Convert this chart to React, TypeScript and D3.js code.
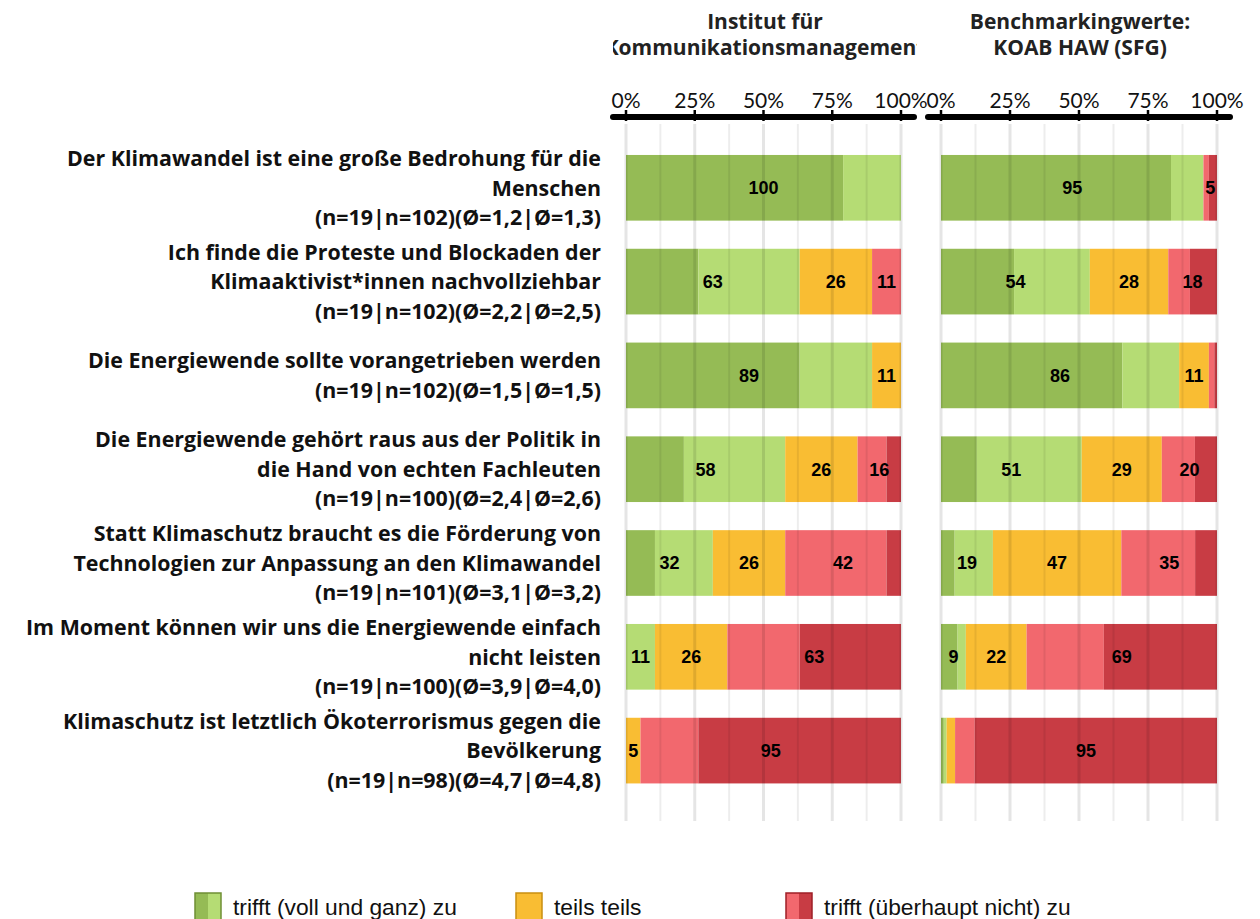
import React from "react";
import * as d3 from "d3";

const W = 1260;
const H = 919;

const rowLabels: string[][] = [
  ["Der Klimawandel ist eine große Bedrohung für die", "Menschen", "(n=19|n=102)(Ø=1,2|Ø=1,3)"],
  ["Ich finde die Proteste und Blockaden der", "Klimaaktivist*innen nachvollziehbar", "(n=19|n=102)(Ø=2,2|Ø=2,5)"],
  ["Die Energiewende sollte vorangetrieben werden", "(n=19|n=102)(Ø=1,5|Ø=1,5)"],
  ["Die Energiewende gehört raus aus der Politik in", "die Hand von echten Fachleuten", "(n=19|n=100)(Ø=2,4|Ø=2,6)"],
  ["Statt Klimaschutz braucht es die Förderung von", "Technologien zur Anpassung an den Klimawandel", "(n=19|n=101)(Ø=3,1|Ø=3,2)"],
  ["Im Moment können wir uns die Energiewende einfach", "nicht leisten", "(n=19|n=100)(Ø=3,9|Ø=4,0)"],
  ["Klimaschutz ist letztlich Ökoterrorismus gegen die", "Bevölkerung", "(n=19|n=98)(Ø=4,7|Ø=4,8)"],
];

// segments: voll zu, eher zu, teils, eher nicht, gar nicht (percent)
const institutValues: number[][] = [
  [78.95, 21.05, 0, 0, 0],
  [26.32, 36.84, 26.32, 10.53, 0],
  [63.16, 26.32, 10.53, 0, 0],
  [21.05, 36.84, 26.32, 10.53, 5.26],
  [10.53, 21.05, 26.32, 36.84, 5.26],
  [0, 10.53, 26.32, 26.32, 36.84],
  [0, 0, 5.26, 21.05, 73.68],
];

const benchmarkValues: number[][] = [
  [83.33, 11.76, 0, 1.96, 2.94],
  [26.47, 27.45, 28.43, 7.84, 9.8],
  [65.69, 20.59, 10.78, 1.96, 0.98],
  [13, 38, 29, 12, 8],
  [4.95, 13.86, 46.53, 26.73, 7.92],
  [6, 3, 22, 28, 41],
  [1.02, 1.02, 3.06, 7.14, 87.76],
];

const tickValues = [0, 25, 50, 75, 100];
const gridValues = [0, 12.5, 25, 37.5, 50, 62.5, 75, 87.5, 100];
const legendLabels = ["trifft (voll und ganz) zu", "teils teils", "trifft (überhaupt nicht) zu"];
const panelTitles = [
  ["Institut für", "Kommunikationsmanagement"],
  ["Benchmarkingwerte:", "KOAB HAW (SFG)"],
];

const segColors = ["#95bb55", "#b5dc74", "#f9bd33", "#f2686e", "#c83c44"];
const groups = [[0, 1], [2], [3, 4]];

const labelFont = "'Open Sans', 'Noto Sans', sans-serif";
const tickFont = "Lato, 'Noto Sans', sans-serif";
const arial = "'Liberation Sans', Arial, sans-serif";

const y = d3
  .scaleBand<number>()
  .domain(d3.range(rowLabels.length))
  .range([140.9, 797.5])
  .paddingInner(0.3)
  .paddingOuter(0.15);

const panels = [
  { values: institutValues, x: d3.scaleLinear().domain([0, 100]).range([626, 901]), titleX: 765 },
  { values: benchmarkValues, x: d3.scaleLinear().domain([0, 100]).range([941, 1217]), titleX: 1080 },
];

function Panel({ p, idx }: { p: typeof panels[number]; idx: number }) {
  const x = p.x;
  const axisY = 117;
  return (
    <g>
      <g clipPath={idx === 0 ? "url(#clipLeftTitle)" : undefined}>
        {panelTitles[idx].map((t, i) => (
          <text
            key={i}
            x={p.titleX}
            y={29 + i * 26}
            textAnchor="middle"
            fontFamily={labelFont}
            fontWeight={700}
            fontSize={21}
            fill="#222"
          >
            {t}
          </text>
        ))}
      </g>
      {tickValues.map((t) => (
        <text key={t} x={x(t)} y={108} textAnchor="middle" fontFamily={tickFont} fontSize={21} fill="#111">
          {t}%
        </text>
      ))}
      {p.values.map((row, r) => {
        let acc = 0;
        const starts = row.map((v) => {
          const s = acc;
          acc += v;
          return s;
        });
        return (
          <g key={r}>
            {row.map((v, k) =>
              v > 0 ? (
                <rect
                  key={k}
                  x={x(starts[k])}
                  y={y(r)!}
                  width={x(starts[k] + v) - x(starts[k])}
                  height={y.bandwidth()}
                  fill={segColors[k]}
                />
              ) : null
            )}
          </g>
        );
      })}
      {gridValues.map((g) => (
        <line
          key={g}
          x1={x(g)}
          x2={x(g)}
          y1={124}
          y2={821}
          stroke="#000"
          strokeOpacity={g % 25 === 0 ? 0.1 : 0.07}
          strokeWidth={g % 25 === 0 ? 3 : 2}
        />
      ))}
      {p.values.map((row, r) => {
        let acc = 0;
        const starts = row.map((v) => {
          const s = acc;
          acc += v;
          return s;
        });
        return (
          <g key={r}>
            {groups.map((gr, gi) => {
              const total = d3.sum(gr, (k) => row[k]);
              const rounded = Math.round(total);
              if (rounded < 5) return null;
              const s = starts[gr[0]];
              return (
                <text
                  key={gi}
                  x={x(s + total / 2)}
                  y={y(r)! + y.bandwidth() / 2}
                  dy="0.36em"
                  textAnchor="middle"
                  fontFamily={arial}
                  fontWeight={700}
                  fontSize={18}
                  fill="#000"
                >
                  {rounded}
                </text>
              );
            })}
          </g>
        );
      })}
      <line x1={x(0) - 13} x2={x(100) + 13} y1={axisY} y2={axisY} stroke="#000" strokeWidth={6} strokeLinecap="round" />
      {tickValues.map((t) => (
        <line key={t} x1={x(t)} x2={x(t)} y1={axisY - 7} y2={axisY + 4} stroke="#000" strokeWidth={2.5} />
      ))}
    </g>
  );
}

export default function App() {
  const lineH = 29.5;
  const legendItems = [
    { x: 195, colors: [segColors[0], segColors[1]], border: "#6f8f35" },
    { x: 516, colors: [segColors[2], segColors[2]], border: "#c98f10" },
    { x: 786, colors: [segColors[3], segColors[4]], border: "#9e1f27" },
  ];
  return (
    <svg
      width={W}
      height={H}
      style={{ position: "absolute", left: 0, top: 0, background: "#fff" }}
      xmlns="http://www.w3.org/2000/svg"
    >
      <defs>
        <clipPath id="clipLeftTitle">
          <rect x={613} y={0} width={304} height={70} />
        </clipPath>
      </defs>
      <rect x={0} y={0} width={W} height={H} fill="#fff" />
      {rowLabels.map((lines, r) => {
        const cy = y(r)! + y.bandwidth() / 2;
        return (
          <g key={r}>
            {lines.map((t, i) => (
              <text
                key={i}
                x={601}
                y={cy + (i - (lines.length - 1) / 2) * lineH}
                dy="0.36em"
                textAnchor="end"
                fontFamily={labelFont}
                fontWeight={700}
                fontSize={21.4}
                fill="#111"
              >
                {t}
              </text>
            ))}
          </g>
        );
      })}
      {panels.map((p, i) => (
        <Panel key={i} p={p} idx={i} />
      ))}
      {legendItems.map((it, i) => (
        <g key={i}>
          <rect x={it.x} y={893} width={13} height={27} fill={it.colors[0]} />
          <rect x={it.x + 13} y={893} width={13} height={27} fill={it.colors[1]} />
          <rect x={it.x} y={893} width={26} height={27} fill="none" stroke={it.border} strokeWidth={1.5} />
          <text x={it.x + 38} y={907} dy="0.36em" fontFamily={arial} fontSize={22.8} fill="#111">
            {legendLabels[i]}
          </text>
        </g>
      ))}
    </svg>
  );
}
